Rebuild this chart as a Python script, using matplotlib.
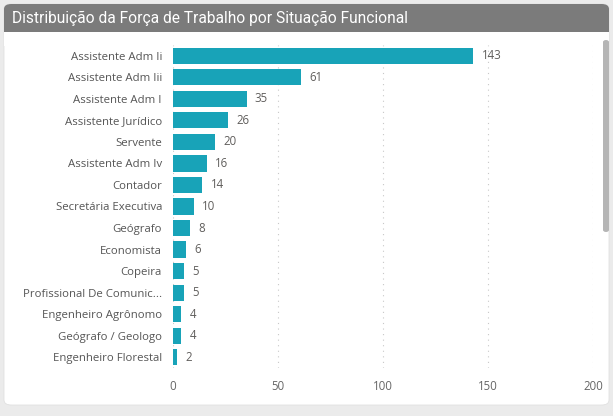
import matplotlib.pyplot as plt
from matplotlib.patches import FancyBboxPatch, Rectangle

categories = ['Assistente Adm Ii', 'Assistente Adm Iii', 'Assistente Adm I',
              'Assistente Jurídico', 'Servente', 'Assistente Adm Iv', 'Contador',
              'Secretária Executiva', 'Geógrafo', 'Economista', 'Copeira',
              'Profissional De Comunic...', 'Engenheiro Agrônomo',
              'Geógrafo / Geologo', 'Engenheiro Florestal']
values = [143, 61, 35, 26, 20, 16, 14, 10, 8, 6, 5, 5, 4, 4, 2]
xticks = [0, 50, 100, 150, 200]

W, H = 613, 416
plt.rcParams['font.family'] = ['Open Sans', 'DejaVu Sans']
fig = plt.figure(figsize=(W / 100, H / 100), dpi=100)
fig.patch.set_facecolor('#ebebeb')

def px(x, y, w, h):
    # pixel box (top-left origin) -> figure fraction
    return x / W, 1 - (y + h) / H, w / W, h / H

# card
x0, y0, w0, h0 = px(4, 4, 605, 401)
fig.patches.append(FancyBboxPatch((x0, y0), w0, h0, boxstyle='round,pad=0,rounding_size=0.012',
                                  transform=fig.transFigure, fc='white', ec='#e0e0e0', lw=0.6, zorder=-3))
x1, y1, w1, h1 = px(4, 4, 605, 40)
fig.patches.append(FancyBboxPatch((x1, y1), w1, h1, boxstyle='round,pad=0,rounding_size=0.012',
                                  transform=fig.transFigure, fc='#7b7b7b', ec='none', zorder=-2))
x2, y2, w2, h2 = px(4, 32, 605, 14)
fig.patches.append(Rectangle((x2, y2), w2, h2, transform=fig.transFigure, fc='white', ec='none', zorder=-1))
fig.text(12 / W, 1 - 18 / H, 'Distribuição da Força de Trabalho por Situação Funcional',
         color='white', fontsize=11.2, va='center', ha='left',
         family=['Roboto', 'DejaVu Sans'])

# scrollbar
sx, sy, sw, sh = px(603, 40, 6, 192)
fig.patches.append(FancyBboxPatch((sx, sy), sw, sh, boxstyle='round,pad=0,rounding_size=0.005',
                                  transform=fig.transFigure, fc='#b5b5b5', ec='none', zorder=-1))

ax = fig.add_axes([173 / W, 1 - 368 / H, 420 / W, 323 / H])
ax.set_zorder(2)
ax.set_facecolor('none')
pos = list(range(len(categories)))
ax.barh(pos, values, height=0.75, color='#18a3b8')
for p, v in zip(pos, values):
    ax.text(v + 4, p, str(v), va='center', ha='left', fontsize=8.3, color='#605e5c')
ax.set_xlim(0, 200)
ax.set_ylim(len(categories) - 0.5, -0.5)
ax.set_yticks(pos)
ax.set_yticklabels(categories, fontsize=8.2, color='#555555')
ax.set_xticks(xticks)
ax.set_xticklabels([str(t) for t in xticks], fontsize=8.3, color='#666666')
ax.tick_params(length=0)
ax.tick_params(axis='y', pad=8)
ax.tick_params(axis='x', pad=9)
for s in ax.spines.values():
    s.set_visible(False)
ax.xaxis.grid(True, linestyle=(0, (1, 4)), color='#c8c8c8', lw=0.8)
ax.set_axisbelow(True)

fig.savefig('out.png', dpi=100, facecolor=fig.get_facecolor())
